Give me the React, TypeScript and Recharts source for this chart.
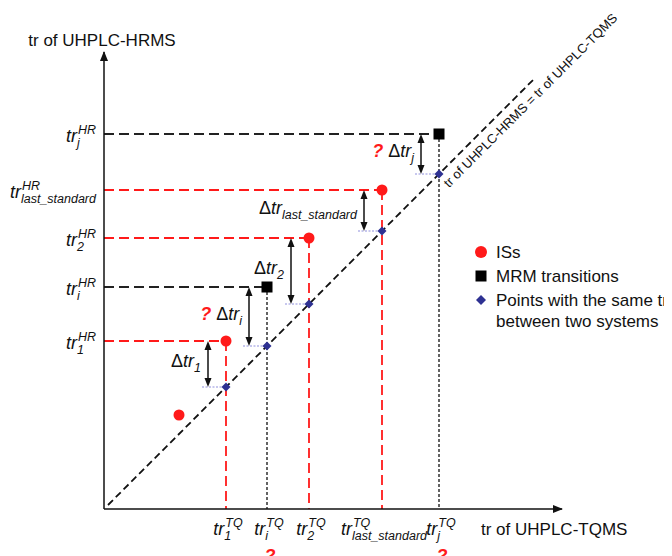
import { ScatterChart, Scatter, XAxis, YAxis, ReferenceLine, ReferenceDot, Legend } from 'recharts'

const FONT = '"Liberation Sans", Arial, Helvetica, sans-serif'
const RED = '#ff1a1a'
const BLUE = '#2e3192'
const INK = '#111111'
const MAIN = 18
const SMALL = 12.5

// retention times in arbitrary units, same scale on both axes
const X_MAX = 458
const Y_MAX = 457
const DIAG = [4, 429]

const IS_NAMES = ['1', '2', 'last_standard']
const IS_TQ = [122, 205, 278]
const IS_HR = [168, 271, 319]
const EXTRA_IS_TQ = [75]
const EXTRA_IS_HR = [94]

const MRM_NAMES = ['i', 'j']
const MRM_TQ = [163, 335]
const MRM_HR = [222, 375]

const TQ_TICKS = [122, 163, 205, 278, 335]
const TQ_TICK_LABELS = ['1', 'i', '2', 'last_standard', 'j']
const HR_TICKS = [168, 222, 271, 319, 375]
const HR_TICK_LABELS = ['1', 'i', '2', 'last_standard', 'j']
const UNKNOWN = ['i', 'j']

const isPoints = [
  ...IS_TQ.map((x, i) => ({ x, y: IS_HR[i] })),
  ...EXTRA_IS_TQ.map((x, i) => ({ x, y: EXTRA_IS_HR[i] })),
]
const mrmPoints = MRM_TQ.map((x, i) => ({ x, y: MRM_HR[i] }))
const samePoints = [...IS_TQ, ...MRM_TQ].map((x) => ({ x, y: x }))

let ctx: CanvasRenderingContext2D | null = null
function textWidth(s: string, size: number) {
  if (!ctx) ctx = document.createElement('canvas').getContext('2d')
  if (!ctx) return s.length * size * 0.55
  ctx.font = `italic ${size}px ${FONT}`
  return ctx.measureText(s).width
}

function TrLabel({ x, y, sub, sup, anchor }: { x: number; y: number; sub: string; sup: string; anchor: 'end' | 'middle' }) {
  const wTr = textWidth('tr', MAIN)
  const w = wTr + Math.max(textWidth(sub, SMALL), textWidth(sup, SMALL) + 1)
  const x0 = anchor === 'end' ? x - w : x - w / 2
  return (
    <g fontFamily={FONT} fontStyle="italic" fill={INK}>
      <text x={x0} y={y} fontSize={MAIN}>tr</text>
      <text x={x0 + wTr} y={y + 5} fontSize={SMALL}>{sub}</text>
      <text x={x0 + wTr + 1} y={y - 8} fontSize={SMALL}>{sup}</text>
    </g>
  )
}

function YTick(props: any) {
  const { x, y, payload } = props
  const sub = HR_TICK_LABELS[HR_TICKS.indexOf(payload.value)]
  return <TrLabel x={x - 8} y={y + 8} sub={sub} sup="HR" anchor="end" />
}

function XTick(props: any) {
  const { x, y, payload } = props
  const sub = TQ_TICK_LABELS[TQ_TICKS.indexOf(payload.value)]
  return (
    <g>
      <TrLabel x={x + 2} y={y + 26} sub={sub} sup="TQ" anchor="middle" />
      {UNKNOWN.includes(sub) && (
        <text x={x + 3} y={y + 53} textAnchor="middle" fontFamily={FONT} fontSize={18} fontWeight="bold" fontStyle="italic" fill={RED}>
          ?
        </text>
      )}
    </g>
  )
}

// double arrow between the measured tr and the point on the diagonal
function deltaShape(sub: string, unknown: boolean) {
  return (p: any) => {
    const { x1, y1, y2 } = p
    const ax = x1 - 18
    const mid = (y1 + y2) / 2
    return (
      <g>
        <line x1={x1 - 24} y1={y2} x2={x1} y2={y2} stroke="#8f8fdc" strokeWidth={1} strokeDasharray="2 1.5" />
        <line x1={ax} y1={y1 + 8} x2={ax} y2={y2 - 8} stroke={INK} strokeWidth={1.5} />
        <polygon points={`${ax},${y1} ${ax - 3.5},${y1 + 9} ${ax + 3.5},${y1 + 9}`} fill={INK} />
        <polygon points={`${ax},${y2} ${ax - 3.5},${y2 - 9} ${ax + 3.5},${y2 - 9}`} fill={INK} />
        <text x={ax - 7} y={mid + 3} textAnchor="end" fontFamily={FONT} fontSize={MAIN} fill={INK}>
          {unknown && (
            <tspan fill={RED} fontWeight="bold" fontStyle="italic">
              ?{' '}
            </tspan>
          )}
          Δ<tspan fontStyle="italic">tr</tspan>
          <tspan fontStyle="italic" fontSize={SMALL} dy={5}>
            {sub}
          </tspan>
        </text>
      </g>
    )
  }
}

const circleShape = (p: any) => <circle cx={p.cx} cy={p.cy} r={5.5} fill={RED} />
const squareShape = (p: any) => <rect x={p.cx - 5.5} y={p.cy - 5.5} width={11} height={11} fill="#000" />
const diamondShape = (p: any) => (
  <polygon points={`${p.cx},${p.cy - 4.5} ${p.cx + 4.5},${p.cy} ${p.cx},${p.cy + 4.5} ${p.cx - 4.5},${p.cy}`} fill={BLUE} />
)

function LegendBox({ payload }: any) {
  return (
    <svg width={200} height={92} style={{ display: 'block' }}>
      {(payload || []).map((entry: any, i: number) => {
        const cy = 8 + i * 24
        const lines = String(entry.value).split('\n')
        let marker
        if (entry.type === 'circle') marker = <circle cx={7} cy={cy} r={6} fill={RED} />
        else if (entry.type === 'square') marker = <rect x={1.5} y={cy - 5.5} width={11} height={11} fill="#000" />
        else marker = <polygon points={`7,${cy - 5} 12,${cy} 7,${cy + 5} 2,${cy}`} fill={BLUE} />
        return (
          <g key={i}>
            {marker}
            {lines.map((l, k) => (
              <text key={k} x={22} y={cy + 6 + k * 21} fontFamily={FONT} fontSize={17} fill={INK}>
                {l}
              </text>
            ))}
          </g>
        )
      })}
    </svg>
  )
}

export default function App() {
  return (
    <ScatterChart width={664} height={548} margin={{ top: 44, right: 110, bottom: 7, left: 6 }}>
      <XAxis
        type="number"
        dataKey="x"
        domain={[0, X_MAX]}
        ticks={TQ_TICKS}
        interval={0}
        tickLine={false}
        tickSize={0}
        tickMargin={0}
        height={40}
        axisLine={{ stroke: INK, strokeWidth: 1.5 }}
        tick={<XTick />}
      />
      <YAxis
        type="number"
        dataKey="y"
        domain={[0, Y_MAX]}
        ticks={HR_TICKS}
        interval={0}
        tickLine={false}
        tickSize={0}
        tickMargin={0}
        width={90}
        axisLine={{ stroke: INK, strokeWidth: 1.5 }}
        tick={<YTick />}
      />

      <ReferenceLine
        segment={[{ x: DIAG[0], y: DIAG[0] }, { x: DIAG[1], y: DIAG[1] }]}
        stroke={INK}
        strokeWidth={1.8}
        strokeDasharray="7 4"
      />

      {IS_TQ.map((tq, i) => (
        <ReferenceLine key={'ish' + i} segment={[{ x: 0, y: IS_HR[i] }, { x: tq, y: IS_HR[i] }]} stroke={RED} strokeWidth={1.8} strokeDasharray="10 5" />
      ))}
      {IS_TQ.map((tq, i) => (
        <ReferenceLine key={'isv' + i} segment={[{ x: tq, y: IS_HR[i] }, { x: tq, y: 0 }]} stroke={RED} strokeWidth={1.8} strokeDasharray="10 5" />
      ))}
      {MRM_TQ.map((tq, i) => (
        <ReferenceLine key={'mh' + i} segment={[{ x: 0, y: MRM_HR[i] }, { x: tq, y: MRM_HR[i] }]} stroke="#222" strokeWidth={1.8} strokeDasharray="10 5" />
      ))}
      {MRM_TQ.map((tq, i) => (
        <ReferenceLine key={'mv' + i} segment={[{ x: tq, y: MRM_HR[i] }, { x: tq, y: 0 }]} stroke="#222" strokeWidth={1.4} strokeDasharray="3 2" />
      ))}

      {IS_TQ.map((tq, i) => (
        <ReferenceLine key={'isd' + i} segment={[{ x: tq, y: IS_HR[i] }, { x: tq, y: tq }]} shape={deltaShape(IS_NAMES[i], false)} />
      ))}
      {MRM_TQ.map((tq, i) => (
        <ReferenceLine key={'md' + i} segment={[{ x: tq, y: MRM_HR[i] }, { x: tq, y: tq }]} shape={deltaShape(MRM_NAMES[i], true)} />
      ))}

      {/* axis arrow heads and titles */}
      <ReferenceDot
        x={X_MAX}
        y={0}
        ifOverflow="visible"
        shape={(p: any) => (
          <g>
            <polygon points={`${p.cx + 1},${p.cy} ${p.cx - 9},${p.cy - 4} ${p.cx - 9},${p.cy + 4}`} fill={INK} />
            <text x={p.cx - 81} y={p.cy + 26} fontFamily={FONT} fontSize={17} fill={INK}>
              tr of UHPLC-TQMS
            </text>
          </g>
        )}
      />
      <ReferenceDot
        x={0}
        y={Y_MAX}
        ifOverflow="visible"
        shape={(p: any) => (
          <g>
            <polygon points={`${p.cx},${p.cy - 1} ${p.cx - 4},${p.cy + 9} ${p.cx + 4},${p.cy + 9}`} fill={INK} />
            <text x={p.cx - 2} y={p.cy - 6} textAnchor="middle" fontFamily={FONT} fontSize={17} fill={INK}>
              tr of UHPLC-HRMS
            </text>
          </g>
        )}
      />
      <ReferenceDot
        x={MRM_TQ[1]}
        y={MRM_TQ[1]}
        ifOverflow="visible"
        shape={(p: any) => (
          <text transform={`translate(${p.cx},${p.cy}) rotate(-45)`} x={-3} y={17} fontFamily={FONT} fontSize={13} fill={INK}>
            tr of UHPLC-HRMS = tr of UHPLC-TQMS
          </text>
        )}
      />

      <Scatter name="ISs" data={isPoints} fill={RED} legendType="circle" shape={circleShape} isAnimationActive={false} />
      <Scatter name="MRM transitions" data={mrmPoints} fill="#000" legendType="square" shape={squareShape} isAnimationActive={false} />
      <Scatter
        name={'Points with the same tr\nbetween two systems'}
        data={samePoints}
        fill={BLUE}
        legendType="diamond"
        shape={diamondShape}
        isAnimationActive={false}
      />

      <Legend
        layout="vertical"
        align="center"
        verticalAlign="middle"
        wrapperStyle={{ left: 466, top: 236, width: 200 }}
        content={(props: any) => <LegendBox payload={props.payload} />}
      />
    </ScatterChart>
  )
}
